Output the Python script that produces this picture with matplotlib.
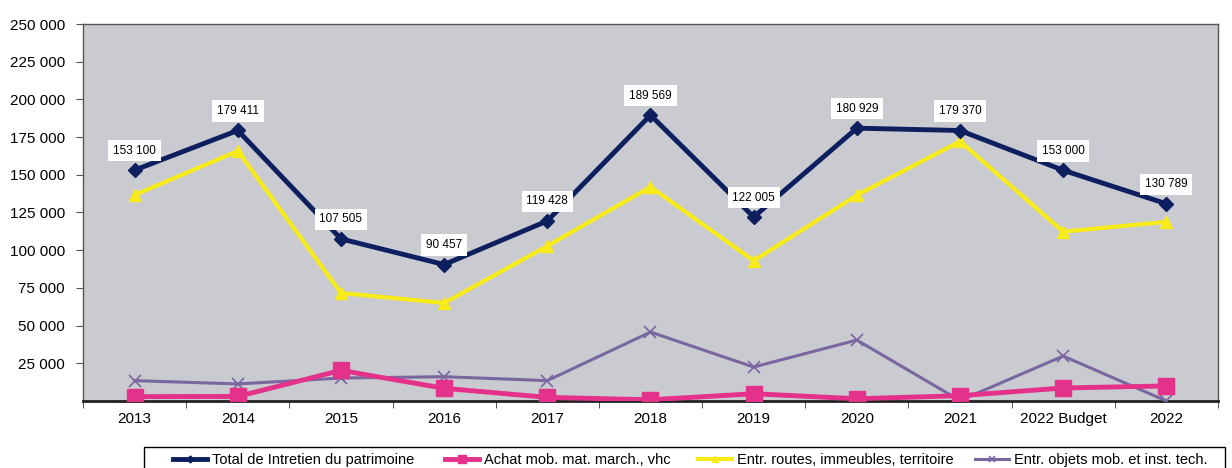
import matplotlib.pyplot as plt
import matplotlib.patches as mpatches
import numpy as np

plt.rcParams['font.family'] = ['Liberation Sans', 'DejaVu Sans']

# Data
years = ["2013", "2014", "2015", "2016", "2017", "2018", "2019", "2020", "2021",
         "2022 Budget", "2022"]
total = [153100, 179411, 107505, 90457, 119428, 189569, 122005, 180929, 179370,
         153000, 130789]
achat = [2900, 3000, 20300, 8400, 2400, 800, 4800, 1500, 3500, 8600, 10000]
routes = [136600, 165800, 71600, 65000, 102800, 142000, 93000, 136500, 172200,
          112300, 118800]
objets = [13500, 11300, 15200, 16100, 13500, 45700, 22500, 40400, 300, 29800, 0]

labels = ["Total de Intretien du patrimoine", "Achat mob. mat. march., vhc",
          "Entr. routes, immeubles, territoire", "Entr. objets mob. et inst. tech."]

W, H = 1232, 468
x = np.arange(len(years))

fig = plt.figure(figsize=(W / 100, H / 100), dpi=100)
ax = fig.add_axes([0.0674, 0.1432, 0.9212, 0.8055])
ax.set_facecolor('#cacad1')

l1, = ax.plot(x, total, color='#0d1f5e', lw=3.5, marker='D', markersize=7,
              zorder=5)
l2, = ax.plot(x, achat, color='#e4318a', lw=3.5, marker='s', markersize=12,
              zorder=4)
l3, = ax.plot(x, routes, color='#f7ec1a', lw=3, marker='^', markersize=9,
              zorder=3)
l4, = ax.plot(x, objets, color='#7a67a0', lw=2.2, marker='x', markersize=8,
              markeredgewidth=1.2, zorder=3)

# value boxes above the total line
for xi, v in zip(x, total):
    ax.annotate(f"{v:,}".replace(",", " "), (xi, v), xytext=(0, 14),
                textcoords='offset points', ha='center', va='center',
                fontsize=8.5,
                bbox=dict(boxstyle='square,pad=0.4', fc='white', ec='none'),
                zorder=6)

ax.set_xlim(-0.5, len(years) - 0.5)
ax.set_ylim(0, 250000)

ax.set_xticks(x)
ax.set_xticklabels(years, fontsize=11)
ax.set_xticks(np.arange(-0.5, len(years), 1), minor=True)
ax.tick_params(axis='x', which='major', length=0, pad=8)
ax.tick_params(axis='x', which='minor', length=5, direction='out', color='#333333')

yt = np.arange(25000, 250001, 25000)
ax.set_yticks(yt)
ax.set_yticklabels([f"{v:,}".replace(",", " ") for v in yt], fontsize=11)
ax.tick_params(axis='y', length=5, direction='out', color='#555555', pad=8)

for s in ['top', 'right', 'left']:
    ax.spines[s].set_color('#555555')
    ax.spines[s].set_linewidth(1)
ax.spines['bottom'].set_color('#222222')
ax.spines['bottom'].set_linewidth(2)

# legend: frame box running off the bottom edge, one entry per column
frame = mpatches.Rectangle((144 / W, 1 - 478 / H), (1225 - 144) / W, 31 / H,
                           transform=fig.transFigure, fill=False,
                           edgecolor='black', lw=1, clip_on=False)
fig.patches.append(frame)

for h, lab, hx in zip([l1, l2, l3, l4], labels, [173, 445, 698, 975]):
    lg = fig.legend([h], [lab], loc='upper left',
                    bbox_to_anchor=(hx / W, 1 - 453 / H), fontsize=10.5,
                    frameon=False, handlelength=2.3, handletextpad=0.4,
                    borderpad=0, borderaxespad=0, markerscale=0.5)

fig.savefig("out.png", dpi=100)
